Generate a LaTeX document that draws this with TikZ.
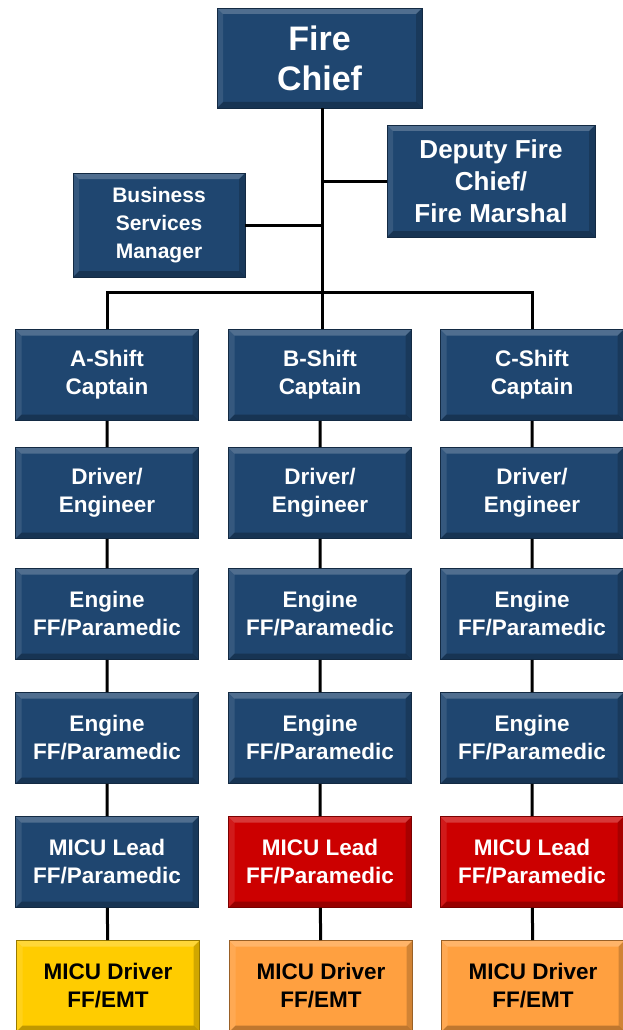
\documentclass[tikz,border=0pt]{standalone}
\usepackage{fontspec}
\setmainfont{Liberation Sans}
\usetikzlibrary{calc}

\definecolor{deptblue}{RGB}{31,70,112}
\definecolor{leadred}{RGB}{204,0,0}
\definecolor{driveryellow}{RGB}{255,204,0}
\definecolor{driverorange}{RGB}{255,160,64}

\begin{document}
\begin{tikzpicture}[
  x=1pt, y=-1pt,
  wire/.style={draw=black, line width=3pt},
  bevel/.style={path picture={
    \fill[white, opacity=.22] (path picture bounding box.north west) -- (path picture bounding box.north east)
      -- ([shift={(-6pt,-6pt)}]path picture bounding box.north east) -- ([shift={(6pt,-6pt)}]path picture bounding box.north west) -- cycle;
    \fill[white, opacity=.10] (path picture bounding box.north west) -- (path picture bounding box.south west)
      -- ([shift={(6pt,6pt)}]path picture bounding box.south west) -- ([shift={(6pt,-6pt)}]path picture bounding box.north west) -- cycle;
    \fill[black, opacity=.25] (path picture bounding box.south west) -- (path picture bounding box.south east)
      -- ([shift={(-6pt,6pt)}]path picture bounding box.south east) -- ([shift={(6pt,6pt)}]path picture bounding box.south west) -- cycle;
    \fill[black, opacity=.18] (path picture bounding box.north east) -- (path picture bounding box.south east)
      -- ([shift={(-6pt,6pt)}]path picture bounding box.south east) -- ([shift={(-6pt,-6pt)}]path picture bounding box.north east) -- cycle;
  }},
  box/.style={draw=#1!60!black, line width=0.8pt, fill=#1, text=white, align=center, inner sep=0pt,
    font=\bfseries\fontsize{22.5}{28}\selectfont, bevel},
  box/.default=deptblue,
  boxsize/.style 2 args={minimum width=#1, minimum height=#2},
  colbox/.style={box=#1, boxsize={183}{91}},
  colbox/.default=deptblue
]
\useasboundingbox (0,0) rectangle (623,1030);

% top of the chart
\node[box, boxsize={205}{100}, font=\bfseries\fontsize{34}{40}\selectfont] (chief) at (319.5,58) {Fire\\Chief};
\node[box, boxsize={208}{112}, font=\bfseries\fontsize{26}{32}\selectfont] (deputy) at (491,181) {Deputy Fire\\Chief/\\Fire Marshal};
\node[box, boxsize={172}{104}, font=\bfseries\fontsize{21}{28}\selectfont] (business) at (159,225) {Business\\Services\\Manager};

% shift columns
\foreach \c/\x in {A/107,B/320,C/532}{
  \node[colbox] (cap\c) at (\x,375) {\c-Shift\\Captain};
  \node[colbox] (drv\c) at (\x,493) {Driver/\\Engineer};
  \node[colbox] (engi\c) at (\x,614) {Engine\\FF/Paramedic};
  \node[colbox] (engii\c) at (\x,738) {Engine\\FF/Paramedic};
}
\node[colbox] (leadA) at (107,862) {MICU Lead\\FF/Paramedic};
\node[colbox=leadred] (leadB) at (320,862) {MICU Lead\\FF/Paramedic};
\node[colbox=leadred] (leadC) at (532,862) {MICU Lead\\FF/Paramedic};
\node[colbox=driveryellow, text=black] (micuA) at (108,986) {MICU Driver\\FF/EMT};
\node[colbox=driverorange, text=black] (micuB) at (321,986) {MICU Driver\\FF/EMT};
\node[colbox=driverorange, text=black] (micuC) at (533,986) {MICU Driver\\FF/EMT};

% connectors
\coordinate (hub) at (322,292);
\draw[wire] (chief.south -| hub) -- (hub);
\draw[wire] (deputy.west) -- (deputy.west -| hub);
\draw[wire] (business.east) -- (business.east -| hub);
\draw[wire] (capA.north) |- (hub) -| (capC.north);
\draw[wire] (hub) -- (capB.north -| hub);
\foreach \c in {A,B,C}{
  \draw[wire] (cap\c) -- (drv\c) (drv\c) -- (engi\c) (engi\c) -- (engii\c)
    (engii\c) -- (lead\c) (lead\c) -- (micu\c);
}
\end{tikzpicture}
\end{document}
